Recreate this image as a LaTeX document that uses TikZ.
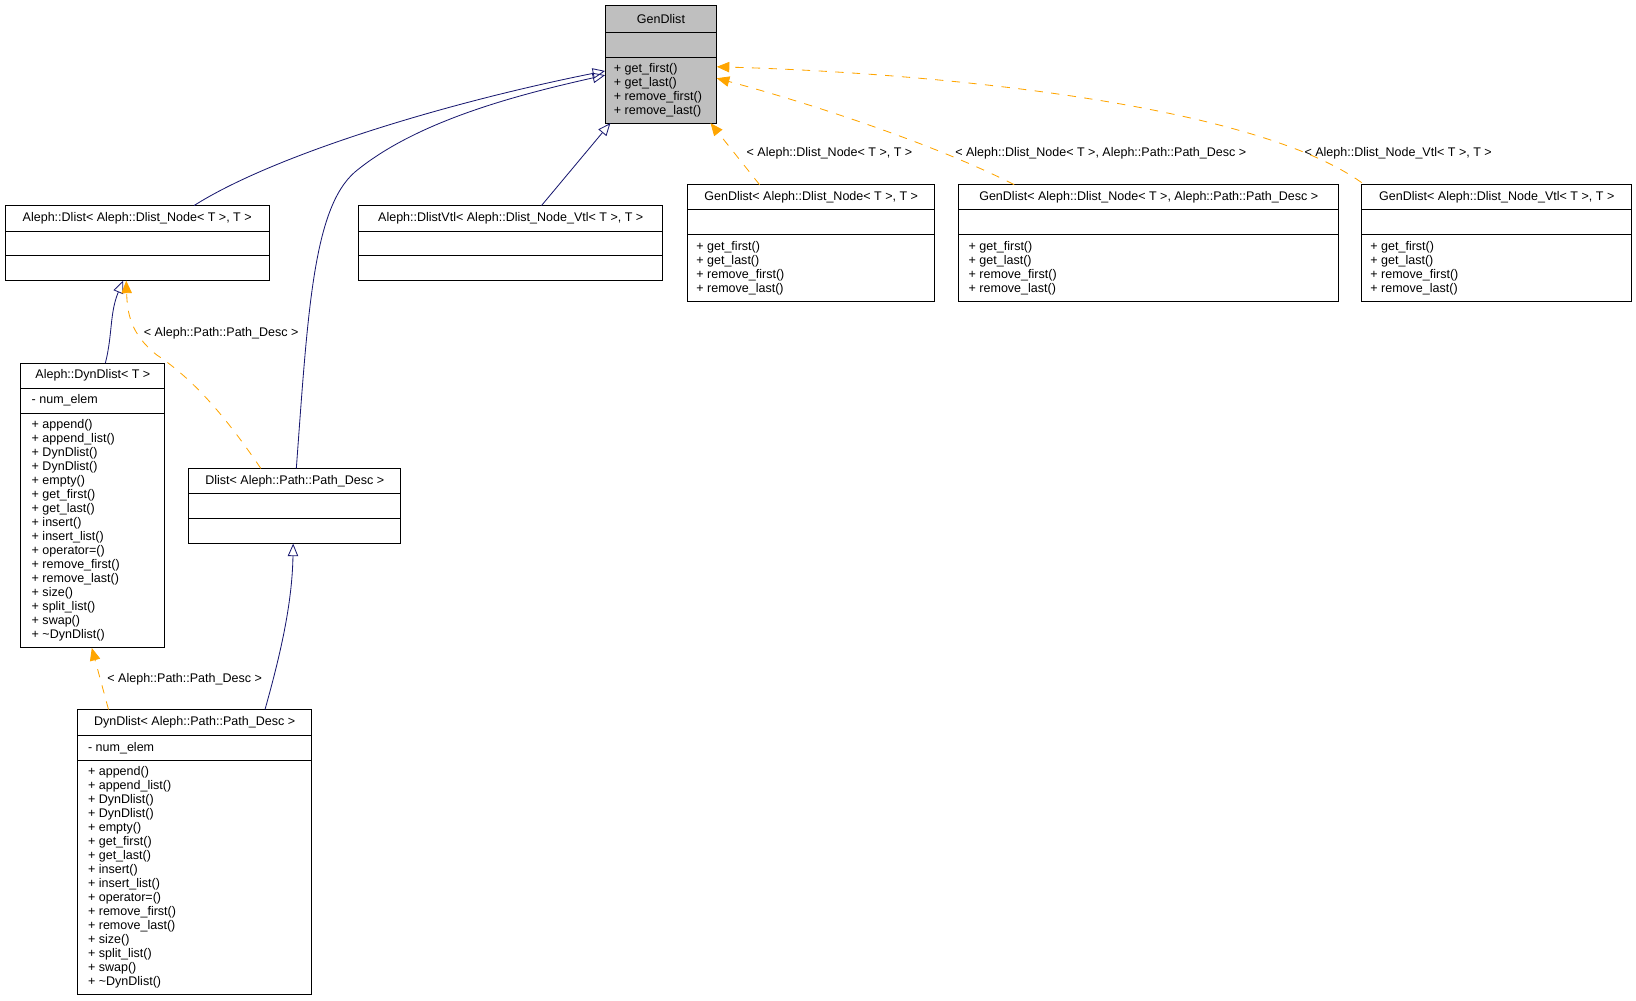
\documentclass[tikz,border=0pt]{standalone}
\usepackage{fontspec}
\setmainfont{Liberation Sans}
\usetikzlibrary{arrows.meta}
\definecolor{edgeblue}{HTML}{191970}
\definecolor{edgeorange}{HTML}{FFA500}
\tikzset{
  box/.style={draw, line width=0.5pt, inner sep=0pt},
  txt/.style={inner sep=0pt, font=\fontsize{6}{6.7}\selectfont, anchor=west},
  ttl/.style={inner sep=0pt, font=\fontsize{6}{6.7}\selectfont},
  ops/.style={inner sep=0pt, font=\fontsize{6}{6.7}\selectfont, anchor=north west, align=left},
  inherit/.style={draw=edgeblue, line width=0.4pt, -{Triangle[open, length=6pt, width=5pt]}},
  tmpl/.style={draw=edgeorange, line width=0.4pt, dash pattern=on 4pt off 4pt, -{Triangle[length=6pt, width=5pt, fill=edgeorange]}},
  lbl/.style={inner sep=0pt, font=\fontsize{6}{6.7}\selectfont}
}
% box: name, x1, y1, x2, y2, sep1, sep2, title
\newcommand{\umlbox}[8]{%
  \path[box] (#2,#3) rectangle (#4,#5);
  \node[inner sep=0pt] (#1) at ({(#2+#4)/2},{(#3+#5)/2}) {};
  \draw[line width=0.5pt] (#2,#6) -- (#4,#6) (#2,#7) -- (#4,#7);
  \node[ttl] (#1-title) at ({(#2+#4)/2},{(#3+#6)/2}) {#8};
}
\begin{document}
\begin{tikzpicture}[x=0.5pt, y=-0.5pt]
\useasboundingbox (0,0) rectangle (1568,959);

% base class
\fill[black!25] (580,5) rectangle (687,118);
\umlbox{gendlist}{580}{5}{687}{118}{31}{55}{GenDlist}
\node[ops] (gendlist-ops) at (588,60) {+ get\_first()\\+ get\_last()\\+ remove\_first()\\+ remove\_last()};

% first row
\umlbox{dlist}{5}{197}{258}{269}{222}{245}{Aleph::Dlist< Aleph::Dlist\_Node< T >, T >}
\umlbox{dlistvtl}{344}{197}{635}{269}{222}{245}{Aleph::DlistVtl< Aleph::Dlist\_Node\_Vtl< T >, T >}
\umlbox{gdnode}{659}{177}{896}{289}{201}{225}{GenDlist< Aleph::Dlist\_Node< T >, T >}
\node[ops] at (667,231) {+ get\_first()\\+ get\_last()\\+ remove\_first()\\+ remove\_last()};
\umlbox{gdpath}{919}{177}{1283}{289}{201}{225}{GenDlist< Aleph::Dlist\_Node< T >, Aleph::Path::Path\_Desc >}
\node[ops] at (928,231) {+ get\_first()\\+ get\_last()\\+ remove\_first()\\+ remove\_last()};
\umlbox{gdvtl}{1305}{177}{1564}{289}{201}{225}{GenDlist< Aleph::Dlist\_Node\_Vtl< T >, T >}
\node[ops] at (1313,231) {+ get\_first()\\+ get\_last()\\+ remove\_first()\\+ remove\_last()};

% dynamic lists
\umlbox{dyndlist}{20}{348}{158}{621}{372}{396}{Aleph::DynDlist< T >}
\node[txt] at (30,384) {- num\_elem};
\node[ops] at (30,402) {+ append()\\+ append\_list()\\+ DynDlist()\\+ DynDlist()\\+ empty()\\+ get\_first()\\+ get\_last()\\+ insert()\\+ insert\_list()\\+ operator=()\\+ remove\_first()\\+ remove\_last()\\+ size()\\+ split\_list()\\+ swap()\\+ \textasciitilde DynDlist()};
\umlbox{dlistpath}{181}{449}{384}{521}{473}{497}{Dlist< Aleph::Path::Path\_Desc >}
\umlbox{dynpath}{74}{680}{299}{953}{705}{729}{DynDlist< Aleph::Path::Path\_Desc >}
\node[txt] at (84,717) {- num\_elem};
\node[ops] at (84,734) {+ append()\\+ append\_list()\\+ DynDlist()\\+ DynDlist()\\+ empty()\\+ get\_first()\\+ get\_last()\\+ insert()\\+ insert\_list()\\+ operator=()\\+ remove\_first()\\+ remove\_last()\\+ size()\\+ split\_list()\\+ swap()\\+ \textasciitilde DynDlist()};

% inheritance
\coordinate (dlist-top) at (186,197);
\coordinate (gendlist-a) at (580,68);
\draw[inherit] (dlist-top) .. controls (260,150) and (420,100) .. (gendlist-a);
\coordinate (dlistpath-top) at (284,449);
\coordinate (gendlist-b) at (580,72);
\draw[inherit] (dlistpath-top) .. controls (295,300) and (300,200) .. (340,165) .. controls (400,115) and (500,90) .. (gendlist-b);
\coordinate (dlistvtl-top) at (519,197);
\coordinate (gendlist-c) at (585,118);
\draw[inherit] (dlistvtl-top) -- (gendlist-c);
\coordinate (dyndlist-top) at (101,348);
\coordinate (dlist-bot) at (118,269);
\draw[inherit] (dyndlist-top) .. controls (108,320) and (105,300) .. (dlist-bot);
\coordinate (dynpath-top) at (254,680);
\coordinate (dlistpath-bot) at (281,521);
\draw[inherit] (dynpath-top) .. controls (268,630) and (280,580) .. (dlistpath-bot);

% template instances
\coordinate (gdnode-top) at (728,177);
\coordinate (gendlist-d) at (681,118);
\draw[tmpl] (gdnode-top) -- (gendlist-d);
\node[lbl] at (795,147) {< Aleph::Dlist\_Node< T >, T >};
\coordinate (gdpath-top) at (972,177);
\coordinate (gendlist-e) at (687,75);
\draw[tmpl] (gdpath-top) .. controls (900,140) and (780,100) .. (gendlist-e);
\node[lbl] at (1055,147) {< Aleph::Dlist\_Node< T >, Aleph::Path::Path\_Desc >};
\coordinate (gdvtl-top) at (1305,175);
\coordinate (gendlist-f) at (687,64);
\draw[tmpl] (gdvtl-top) .. controls (1200,100) and (900,70) .. (gendlist-f);
\node[lbl] at (1340,147) {< Aleph::Dlist\_Node\_Vtl< T >, T >};
\coordinate (dlistpath-tl) at (250,449);
\coordinate (dlist-bot2) at (121,269);
\draw[tmpl] (dlistpath-tl) .. controls (210,390) and (180,360) .. (150,340) .. controls (125,320) and (122,300) .. (dlist-bot2);
\node[lbl] at (212,319) {< Aleph::Path::Path\_Desc >};
\coordinate (dynpath-tl) at (104,680);
\coordinate (dyndlist-bot) at (88,621);
\draw[tmpl] (dynpath-tl) -- (dyndlist-bot);
\node[lbl] at (177,651) {< Aleph::Path::Path\_Desc >};
\end{tikzpicture}
\end{document}
